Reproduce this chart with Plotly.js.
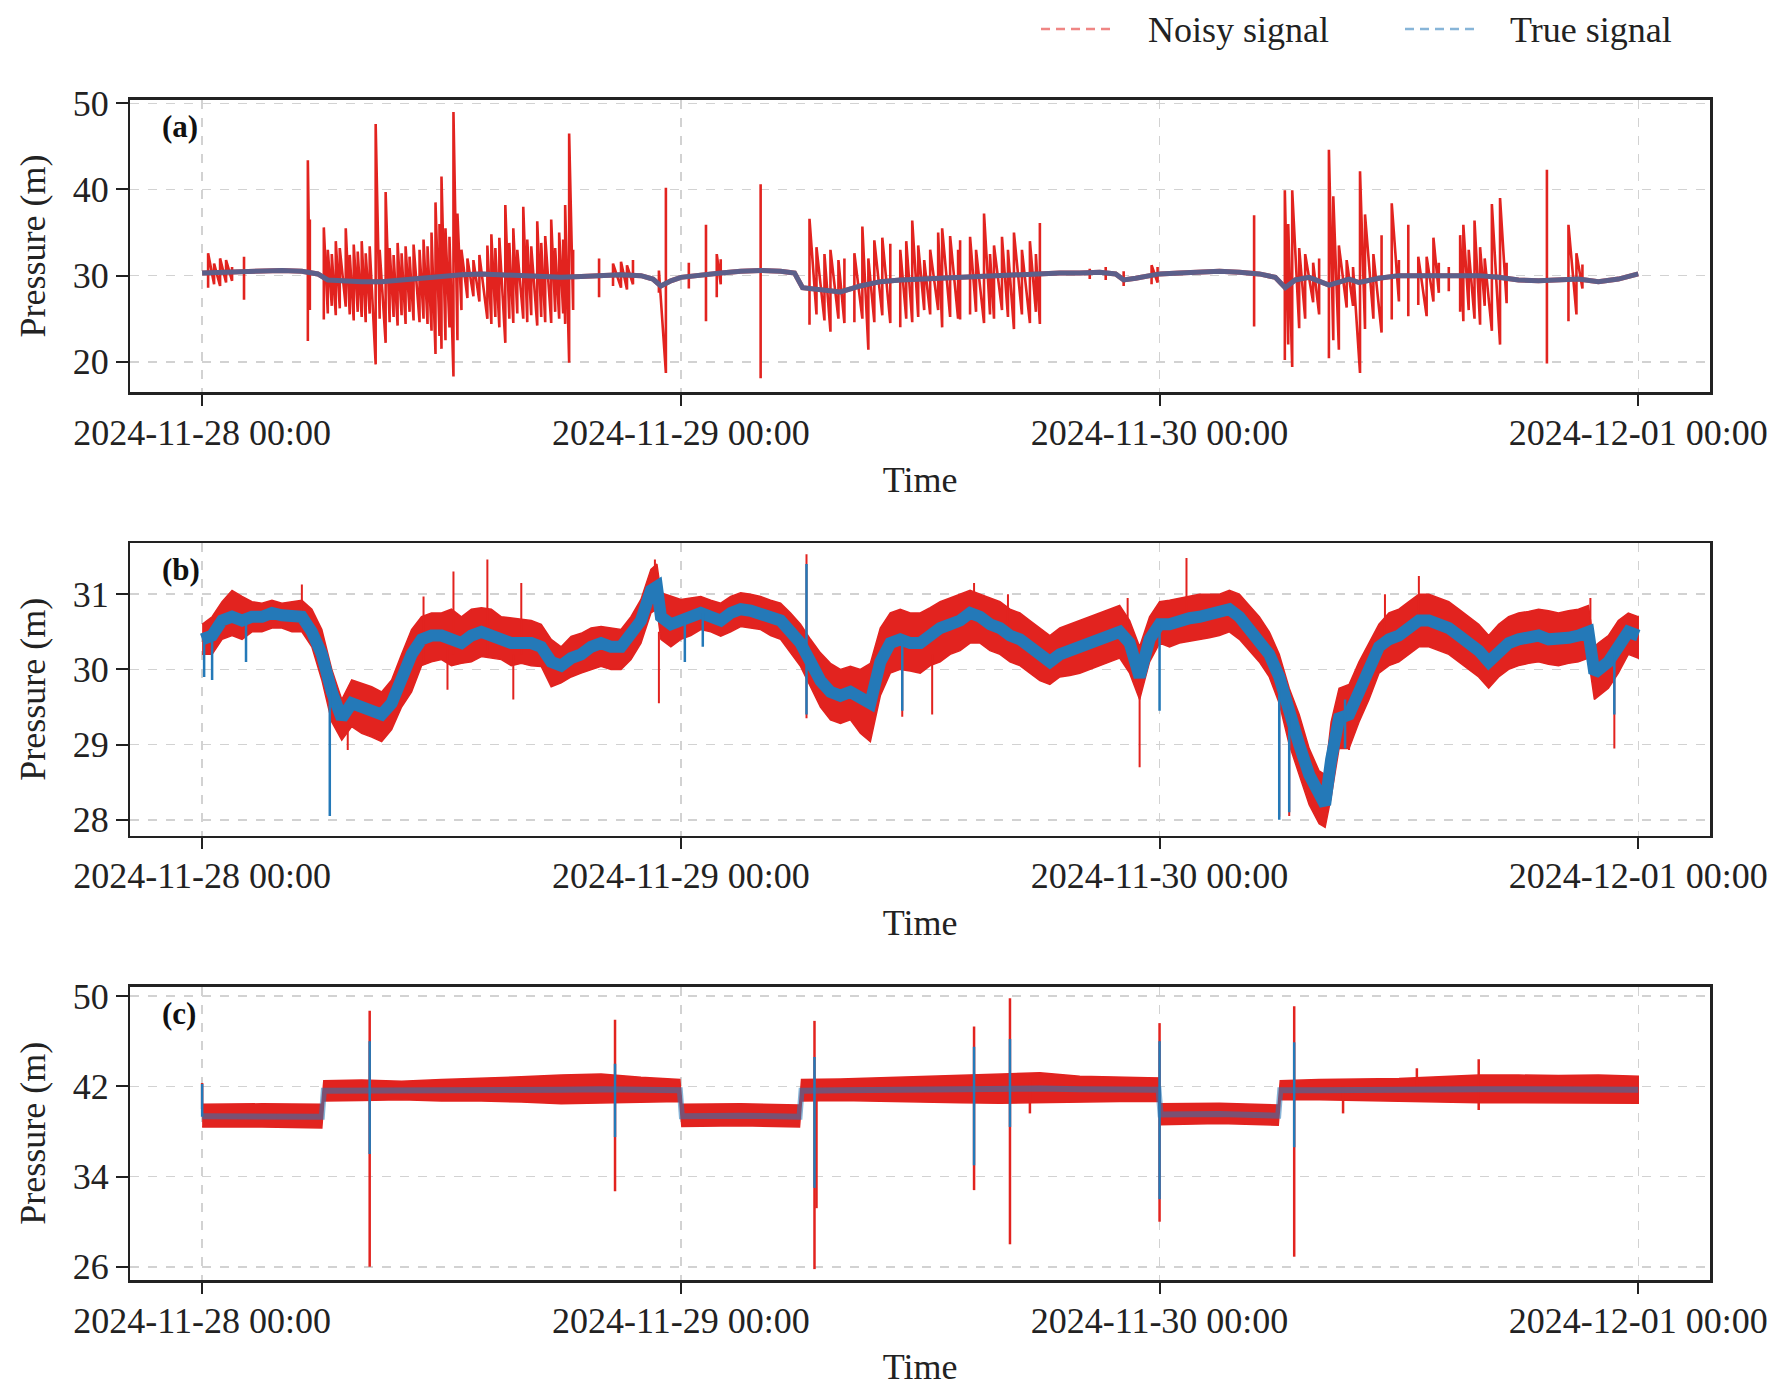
<!DOCTYPE html>
<html><head><meta charset="utf-8">
<script src="https://cdn.plot.ly/plotly-3.0.1.min.js"></script>
<style>html,body{margin:0;padding:0;background:#fff}#chart{width:1778px;height:1387px}</style>
</head><body><div id="chart"></div>
<script>
// ---------- labels ----------
const seriesNames = ['Noisy signal', 'True signal'];
const panelLabels = ['(a)', '(b)', '(c)'];
const xTitle = 'Time';
const yTitle = 'Pressure (m)';
const xTickVals = ['2024-11-28 00:00', '2024-11-29 00:00', '2024-11-30 00:00', '2024-12-01 00:00'];
const xTickText = ['2024-11-28 00:00', '2024-11-29 00:00', '2024-11-30 00:00', '2024-12-01 00:00'];
const xRange = ['2024-11-27 20:24', '2024-12-01 03:36'];
const aTicks = [20, 30, 40, 50];
const bTicks = [28, 29, 30, 31];
const cTicks = [26, 34, 42, 50];

// ---------- panel (a): hours since 2024-11-28 00:00 ----------
const aT    = [0,1,2,3,4,5,5.8,6.3,7,8,9,10,11,12,13,14,15,16,17,18,19,20,21,22,22.6,23,23.5,24,25,26,27,28,29,29.7,30.1,31,32,33,34,35,36,37,38,39,40,41,42,43,44,45,45.8,46.2,46.8,48,49,50,51,52,53,53.8,54.3,54.8,55.5,56.5,57.5,58,59,60,61,62,63,64,65,66,67,68,69,70,71,72];
const aTrue = [30.3,30.4,30.5,30.55,30.6,30.5,30.2,29.5,29.4,29.3,29.3,29.5,29.8,30.0,30.1,30.2,30.1,30.0,29.9,29.8,29.9,30.0,30.1,30.0,29.6,28.8,29.4,29.8,30.1,30.3,30.5,30.6,30.5,30.3,28.6,28.3,28.1,28.8,29.3,29.5,29.6,29.8,29.9,30.0,30.1,30.2,30.2,30.3,30.3,30.4,30.2,29.5,29.7,30.2,30.3,30.4,30.5,30.4,30.2,29.8,28.6,29.5,29.8,28.9,29.6,29.2,29.7,30.0,30.0,29.9,29.9,30.0,29.8,29.5,29.4,29.5,29.6,29.3,29.6,30.2];
const aSpkT  = [0.3,0.6,0.9,1.2,1.5,2.1,5.3,5.4,6.1,6.3,6.5,6.7,6.9,7.2,7.4,7.6,7.8,8.0,8.2,8.4,8.7,8.9,9.2,9.4,9.6,9.8,10.0,10.2,10.4,10.6,10.9,11.1,11.3,11.5,11.7,11.9,12.0,12.2,12.4,12.6,12.8,13.0,13.3,13.6,13.9,14.3,14.5,14.7,14.9,15.2,15.4,15.6,15.8,16.1,16.3,16.5,16.8,17.0,17.2,17.5,17.7,17.9,18.1,18.2,18.4,18.6,19.9,20.6,21.0,21.3,21.6,22.9,23.25,24.4,25.26,25.8,26.0,28.0,
  30.45,30.8,31.2,31.5,31.9,32.2,32.7,33.1,33.4,33.7,34.1,34.5,35.0,35.3,35.6,35.9,36.2,36.5,36.9,37.1,37.5,37.9,38.0,38.5,38.8,39.2,39.5,39.7,40.1,40.4,40.7,41.1,41.5,41.8,42.0,
  44.5,45.3,46.2,47.6,47.9,
  52.74,54.28,54.45,54.65,55.0,55.3,55.7,56.0,56.49,56.71,56.99,57.38,57.7,58.05,58.3,58.72,59.13,59.64,60.0,60.47,60.97,61.39,61.73,62.0,62.5,63.07,63.23,63.5,63.79,64.07,64.3,64.66,65.07,65.4,67.42,68.5,68.9,69.2];
const aSpkHi = [32.6,31.4,32.0,31.8,31.0,32.2,43.4,36.5,35.6,33.0,32.5,34.0,33.2,35.5,32.4,33.6,32.8,34.0,32.6,33.4,47.6,33.0,39.7,33.2,32.4,33.8,32.6,33.4,32.2,33.6,33.0,34.2,33.4,35.0,38.5,36.0,41.5,35.5,34.5,49.0,37.2,33.0,32.0,31.8,32.4,33.5,34.8,33.2,34.4,38.2,33.8,35.5,33.0,38.0,34.2,33.4,36.3,33.8,34.6,36.5,33.2,35.0,34.2,38.2,46.5,33.0,32.0,31.4,31.6,31.2,31.8,30.6,40.2,31.5,35.9,32.5,31.9,40.6,
  36.6,33.3,32.5,33.0,31.8,32.0,32.6,35.7,32.0,34.1,34.4,33.7,33.0,34.0,36.4,33.5,31.8,33.0,35.0,35.5,34.6,33.0,34.1,34.5,33.0,37.2,32.5,33.5,34.5,33.0,35.0,33.0,34.0,32.5,36.1,
  30.8,31.0,30.5,31.2,31.0,
  37.0,39.9,36.0,39.9,33.2,32.5,31.5,32.0,44.6,39.2,33.5,31.8,31.0,42.1,37.1,32.5,34.7,38.4,31.8,35.9,32.2,32.2,34.4,31.5,31.0,34.7,35.9,33.0,36.4,33.3,32.0,38.3,39.0,31.5,42.3,35.9,32.6,31.3];
const aSpkLo = [28.6,29.0,28.8,29.2,29.4,27.2,22.4,26.0,24.9,25.6,26.5,25.4,26.2,26.4,25.5,24.8,25.8,25.2,24.6,25.6,19.7,25.0,22.2,24.6,25.2,24.2,25.4,24.4,25.8,24.8,24.6,25.0,24.4,23.6,20.9,23.0,21.5,22.5,24.0,18.3,22.5,26.0,27.4,27.6,27.0,25.0,24.4,25.2,24.0,22.2,25.0,24.5,25.6,25.0,24.6,25.4,24.2,25.2,24.6,24.5,25.8,25.0,25.6,24.4,19.9,26.0,27.5,28.8,28.6,28.4,29.0,28.0,18.7,28.5,24.7,27.5,29.0,18.1,
  24.3,25.5,24.8,23.5,25.0,24.5,24.6,25.0,21.4,24.6,25.4,24.5,24.0,25.0,24.6,25.2,26.0,25.5,26.0,24.0,25.2,25.0,24.9,25.5,25.8,24.5,25.5,25.0,26.0,25.2,23.8,25.5,24.5,25.8,24.4,
  29.6,29.5,28.8,29.0,29.2,
  24.1,20.2,22.0,19.4,23.9,25.0,26.9,25.5,20.4,22.5,21.4,26.3,26.5,18.7,23.8,25.0,23.4,24.9,27.0,25.3,26.6,25.3,27.0,28.0,28.2,25.8,24.7,26.0,25.0,24.3,26.5,23.6,22.0,26.8,19.8,24.7,25.5,28.5];

// ---------- panel (b) ----------
const bT    = [0,0.5,1,1.5,2,2.5,3,3.5,4,4.5,5,5.5,6,6.5,7,7.5,8,8.5,9,9.5,10,10.5,11,11.5,12,12.5,13,13.5,14,14.5,15,15.5,16,16.5,17,17.5,18,18.5,19,19.5,20,20.5,21,21.5,22,22.5,22.8,23,23.5,24,24.5,25,25.5,26,26.5,27,27.5,28,28.5,29,29.5,30,30.5,31,31.5,32,32.5,33,33.5,34,34.5,35,35.5,36,36.5,37,37.5,38,38.5,39,39.5,40,40.5,41,41.5,42,42.5,43,43.5,44,44.5,45,45.5,46,46.5,47,47.5,48,48.5,49,49.5,50,50.5,51,51.5,52,52.5,53,53.5,54,54.5,55,55.5,56,56.3,56.6,57,57.5,58,58.5,59,59.5,60,60.5,61,61.5,62,62.5,63,63.5,64,64.5,65,65.5,66,66.5,67,67.5,68,68.5,69,69.5,69.8,70,70.5,71,71.5,72];
const bTrue = [30.4,30.45,30.65,30.7,30.65,30.7,30.7,30.75,30.72,30.7,30.7,30.5,30.2,29.7,29.35,29.55,29.5,29.45,29.4,29.55,29.9,30.2,30.4,30.45,30.45,30.4,30.35,30.45,30.5,30.45,30.4,30.35,30.35,30.35,30.3,30.1,30.05,30.15,30.2,30.3,30.35,30.3,30.3,30.45,30.65,31.05,31.1,30.7,30.6,30.65,30.7,30.75,30.7,30.65,30.75,30.8,30.78,30.75,30.7,30.65,30.5,30.35,30.1,29.85,29.7,29.65,29.7,29.6,29.55,30.1,30.35,30.4,30.35,30.35,30.45,30.55,30.6,30.65,30.75,30.7,30.6,30.55,30.45,30.4,30.3,30.2,30.1,30.2,30.25,30.3,30.35,30.4,30.45,30.5,30.35,29.9,30.4,30.6,30.6,30.65,30.68,30.7,30.72,30.75,30.8,30.7,30.55,30.4,30.2,29.9,29.4,29.0,28.6,28.3,28.2,28.8,29.35,29.4,29.7,30.0,30.3,30.4,30.45,30.55,30.65,30.65,30.6,30.55,30.45,30.35,30.25,30.1,30.25,30.35,30.4,30.42,30.45,30.4,30.4,30.42,30.45,30.5,29.95,30.0,30.1,30.3,30.5,30.45];
const bNoisyLo = [30.2,30.2,30.4,30.45,30.4,30.5,30.5,30.55,30.55,30.5,30.5,30.3,29.86,29.3,29.06,29.24,29.15,29.1,29.04,29.2,29.5,29.7,30.05,30.1,30.13,30.05,30.08,30.1,30.17,30.15,30.13,30.05,30.08,30.05,30.04,29.77,29.82,29.9,29.95,30.0,30.04,30.0,30.0,30.13,30.35,30.75,30.8,30.4,30.3,30.4,30.45,30.53,30.5,30.44,30.5,30.57,30.55,30.53,30.45,30.4,30.22,30.04,29.77,29.5,29.33,29.28,29.33,29.15,29.04,29.65,29.95,30.0,29.98,29.95,30.05,30.1,30.2,30.25,30.35,30.35,30.25,30.2,30.1,30.05,29.95,29.85,29.8,29.9,29.92,29.95,30.0,30.05,30.1,30.15,29.95,29.6,30.1,30.35,30.3,30.35,30.38,30.4,30.42,30.45,30.5,30.4,30.25,30.1,29.9,29.55,29.0,28.6,28.2,27.95,27.9,28.3,28.95,28.95,29.3,29.6,29.95,30.05,30.1,30.2,30.3,30.3,30.25,30.2,30.1,30.0,29.9,29.75,29.9,30.0,30.05,30.08,30.1,30.07,30.05,30.08,30.1,30.15,29.6,29.65,29.75,29.95,30.2,30.15];
const bNoisyHi = [30.6,30.7,30.9,31.05,30.97,30.9,30.88,30.92,30.88,30.9,30.92,30.8,30.53,30.0,29.6,29.86,29.82,29.77,29.7,29.86,30.2,30.53,30.7,30.75,30.75,30.8,30.7,30.8,30.82,30.8,30.7,30.68,30.66,30.65,30.6,30.4,30.3,30.44,30.48,30.55,30.57,30.55,30.53,30.7,30.93,31.33,31.4,31.02,30.97,30.93,30.95,30.97,30.92,30.88,30.97,31.02,31.0,30.97,30.92,30.88,30.75,30.6,30.4,30.22,30.08,30.0,30.04,30.0,30.08,30.55,30.75,30.8,30.75,30.75,30.82,30.9,30.95,31.0,31.05,31.0,30.95,30.9,30.8,30.75,30.65,30.55,30.45,30.55,30.6,30.65,30.7,30.75,30.8,30.85,30.65,30.3,30.7,30.9,30.92,30.95,30.97,31.0,31.0,31.0,31.05,31.0,30.85,30.7,30.5,30.2,29.75,29.4,28.95,28.65,28.6,29.3,29.75,29.8,30.1,30.35,30.6,30.75,30.8,30.9,31.0,31.0,30.95,30.9,30.8,30.7,30.6,30.45,30.6,30.7,30.75,30.77,30.8,30.78,30.75,30.78,30.8,30.85,30.3,30.35,30.45,30.65,30.75,30.7];
const bSpkT  = [5.0,7.3,11.1,12.3,12.6,14.3,15.6,16.0,22.7,22.9,30.3,35.1,36.6,38.7,40.4,46.4,47.0,49.35,54.0,54.5,57.5,59.3,61.0,69.6,70.8];
const bSpkLo = [30.5,28.93,30.1,29.73,30.2,30.2,29.6,30.2,30.8,29.55,29.35,29.37,29.4,30.7,30.5,30.4,28.7,30.6,28.04,28.05,28.93,30.3,30.6,30.3,28.95];
const bSpkHi = [31.13,29.4,30.97,30.3,31.3,31.46,30.2,31.15,31.46,30.5,31.53,30.2,30.2,31.15,31.0,30.95,30.0,31.48,29.9,29.5,29.5,31.0,31.24,30.95,30.0];
const bTrueSpkT  = [0.1,0.5,2.2,6.4,24.2,25.1,30.3,35.1,48.0,54.0,54.5,57.3,70.8];
const bTrueSpkLo = [29.9,29.86,30.1,28.05,30.1,30.3,29.4,29.45,29.45,28.0,28.1,28.95,29.4];
const bTrueSpkHi = [30.4,30.4,30.65,29.9,30.65,30.75,31.4,30.4,30.6,29.9,29.5,29.6,30.2];

// ---------- panel (c) ----------
const cT       = [0,3,6.0,6.1,8,10,12,14,16,18,20,22,23.95,24.05,27,29.95,30.05,32,34,36,38,40,42,44,46,47.95,48.05,51,53.95,54.05,56,58,60,62,64,66,68,70,72];
const cTrue    = [39.35,39.35,39.3,41.6,41.6,41.6,41.65,41.7,41.7,41.7,41.75,41.7,41.65,39.35,39.4,39.3,41.6,41.65,41.7,41.7,41.75,41.75,41.8,41.75,41.7,41.7,39.5,39.55,39.4,41.65,41.65,41.7,41.7,41.75,41.75,41.75,41.75,41.7,41.7];
const cNoisyLo = [38.4,38.4,38.3,40.7,40.75,40.8,40.7,40.7,40.6,40.45,40.5,40.6,40.65,38.45,38.5,38.4,40.7,40.75,40.7,40.6,40.55,40.5,40.55,40.6,40.65,40.65,38.6,38.7,38.55,40.8,40.8,40.75,40.7,40.6,40.55,40.5,40.55,40.5,40.5];
const cNoisyHi = [40.4,40.45,40.4,42.5,42.55,42.45,42.6,42.7,42.85,43.0,43.1,42.8,42.6,40.4,40.45,40.35,42.6,42.65,42.75,42.85,43.0,43.1,43.2,42.9,42.8,42.75,40.45,40.5,40.35,42.5,42.6,42.65,42.7,42.85,43.0,43.0,42.95,43.0,42.9];
const cSpkT  = [0.0,8.4,20.7,30.7,30.8,38.7,40.5,41.5,48.0,54.75,57.2,60.9,64.0];
const cSpkLo = [40.0,26.0,32.7,25.8,31.2,32.8,28.0,39.6,30.0,26.9,39.6,42.0,39.9];
const cSpkHi = [42.3,48.7,47.9,47.8,41.5,47.3,49.8,42.5,47.6,49.1,42.0,43.6,44.4];
const cTrueSpkT  = [0.0,8.4,20.7,30.7,38.7,40.5,48.0,54.75];
const cTrueSpkLo = [39.3,36.0,37.5,33.0,35.0,38.4,32.0,36.6];
const cTrueSpkHi = [42.2,46.0,44.0,44.6,45.5,46.2,46.0,45.9];

// ---------- helpers ----------
const T0 = Date.UTC(2024, 10, 28, 0, 0, 0);
function d(h) { return new Date(T0 + Math.round(h * 3600000)).toISOString().slice(0, 19).replace('T', ' '); }
// separate vertical strokes
function seg(t, lo, hi) {
  const x = [], y = [];
  t.forEach((v, i) => { x.push(d(v), d(v), null); y.push(lo[i], hi[i], null); });
  return { x, y };
}
// strokes joined into one trace when close in time (gap > maxGap hours breaks the line)
function saw(t, lo, hi, maxGap) {
  const x = [], y = [];
  t.forEach((v, i) => {
    if (i > 0 && v - t[i - 1] > maxGap) { x.push(null); y.push(null); }
    x.push(d(v), d(v)); y.push(lo[i], hi[i]);
  });
  return { x, y };
}
function band(t, lo, hi) {
  const x = t.map(d).concat(t.slice().reverse().map(d));
  const y = hi.concat(lo.slice().reverse());
  return { x, y };
}

const RED = '#e2231f';
const BLUE = '#2479b8';
const FONT = 'Liberation Serif, Times New Roman, serif';
const traces = [];

// (a)
traces.push({ x: aT.map(d), y: aTrue, xaxis: 'x', yaxis: 'y', mode: 'lines', line: { color: RED, width: 5 }, showlegend: false });
let s = saw(aSpkT, aSpkLo, aSpkHi, 0.45);
traces.push({ x: s.x, y: s.y, xaxis: 'x', yaxis: 'y', mode: 'lines', line: { color: RED, width: 2.6 }, connectgaps: false, showlegend: false });
traces.push({ x: aT.map(d), y: aTrue, xaxis: 'x', yaxis: 'y', mode: 'lines', line: { color: BLUE, width: 5 }, opacity: 0.7, showlegend: false });

// (b)
let bb = band(bT, bNoisyLo, bNoisyHi);
traces.push({ x: bb.x, y: bb.y, xaxis: 'x2', yaxis: 'y2', mode: 'lines', fill: 'toself', fillcolor: RED, line: { color: RED, width: 1.5 }, showlegend: false });
s = seg(bSpkT, bSpkLo, bSpkHi);
traces.push({ x: s.x, y: s.y, xaxis: 'x2', yaxis: 'y2', mode: 'lines', line: { color: RED, width: 2 }, showlegend: false });
traces.push({ x: bT.map(d), y: bTrue, xaxis: 'x2', yaxis: 'y2', mode: 'lines', line: { color: BLUE, width: 12 }, showlegend: false });
s = seg(bTrueSpkT, bTrueSpkLo, bTrueSpkHi);
traces.push({ x: s.x, y: s.y, xaxis: 'x2', yaxis: 'y2', mode: 'lines', line: { color: BLUE, width: 2.5 }, showlegend: false });

// (c)
let cb = band(cT, cNoisyLo, cNoisyHi);
traces.push({ x: cb.x, y: cb.y, xaxis: 'x3', yaxis: 'y3', mode: 'lines', fill: 'toself', fillcolor: RED, line: { color: RED, width: 1.5 }, showlegend: false });
s = seg(cSpkT, cSpkLo, cSpkHi);
traces.push({ x: s.x, y: s.y, xaxis: 'x3', yaxis: 'y3', mode: 'lines', line: { color: RED, width: 2.5 }, showlegend: false });
traces.push({ x: cT.map(d), y: cTrue, xaxis: 'x3', yaxis: 'y3', mode: 'lines', line: { color: BLUE, width: 6 }, opacity: 0.55, showlegend: false });
s = seg(cTrueSpkT, cTrueSpkLo, cTrueSpkHi);
traces.push({ x: s.x, y: s.y, xaxis: 'x3', yaxis: 'y3', mode: 'lines', line: { color: BLUE, width: 2.5 }, showlegend: false });

// ---------- axes ----------
const XDOM = [0.0733, 0.9618];
function xax(anchor) {
  return {
    type: 'date', domain: XDOM, anchor: anchor, range: xRange,
    tickvals: xTickVals, ticktext: xTickText, tickangle: 0,
    ticks: 'outside', ticklen: 11, tickwidth: 2, tickcolor: '#222',
    showline: true, linecolor: '#222', linewidth: 2.5, mirror: true,
    showgrid: true, gridcolor: '#d2d2d2', gridwidth: 1.5, griddash: 'dash', zeroline: false,
    tickfont: { family: FONT, size: 36, color: '#222' },
    title: { text: xTitle, font: { family: FONT, size: 36, color: '#222' }, standoff: 15 },
    automargin: false, ticklabelstandoff: -4
  };
}
function yax(anchor, dom, range, tv) {
  return {
    domain: dom, anchor: anchor, range: range, tickvals: tv,
    ticks: 'outside', ticklen: 12, tickwidth: 2, tickcolor: '#222',
    showline: true, linecolor: '#222', linewidth: 2.5, mirror: true,
    showgrid: true, gridcolor: '#d2d2d2', gridwidth: 1.5, griddash: 'dash', zeroline: false,
    tickfont: { family: FONT, size: 36, color: '#222' },
    title: { text: yTitle, font: { family: FONT, size: 36, color: '#222' }, standoff: 16 },
    automargin: false
  };
}

function px(x) { return x / 1778; }
function py(y) { return 1 - y / 1387; }

const annotations = [];
[['x', 'y'], ['x2', 'y2'], ['x3', 'y3']].forEach((p, i) => {
  annotations.push({ xref: p[0] + ' domain', yref: p[1] + ' domain', x: 0.019, y: 0.975, xanchor: 'left', yanchor: 'top',
    text: '<b>' + panelLabels[i] + '</b>', showarrow: false, font: { family: FONT, size: 31, color: '#111' } });
});
annotations.push({ xref: 'paper', yref: 'paper', x: px(1146), y: py(30), xanchor: 'left', yanchor: 'middle', text: seriesNames[0], showarrow: false, font: { family: FONT, size: 36, color: '#222' } });
annotations.push({ xref: 'paper', yref: 'paper', x: px(1508), y: py(30), xanchor: 'left', yanchor: 'middle', text: seriesNames[1], showarrow: false, font: { family: FONT, size: 36, color: '#222' } });

const shapes = [
  { type: 'line', xref: 'paper', yref: 'paper', x0: px(1041), x1: px(1113), y0: py(29), y1: py(29), line: { color: 'rgba(226,35,31,0.55)', width: 2.5, dash: '9px,6px' } },
  { type: 'line', xref: 'paper', yref: 'paper', x0: px(1405), x1: px(1475), y0: py(29), y1: py(29), line: { color: 'rgba(36,121,184,0.55)', width: 2.5, dash: '9px,6px' } }
];

const layout = {
  width: 1778, height: 1387,
  margin: { l: 0, r: 0, t: 0, b: 0 },
  paper_bgcolor: '#ffffff', plot_bgcolor: '#ffffff',
  showlegend: false,
  font: { family: FONT, size: 36, color: '#222' },
  xaxis: xax('y'), xaxis2: xax('y2'), xaxis3: xax('y3'),
  yaxis: yax('x', [0.7171, 0.9280], [16.45, 50.4], aTicks),
  yaxis2: yax('x2', [0.3975, 0.6085], [27.79, 31.68], bTicks),
  yaxis3: yax('x3', [0.0771, 0.2887], [24.83, 50.84], cTicks),
  annotations: annotations, shapes: shapes
};

Plotly.newPlot('chart', traces, layout, { staticPlot: true, displayModeBar: false });
</script>
</body></html>
